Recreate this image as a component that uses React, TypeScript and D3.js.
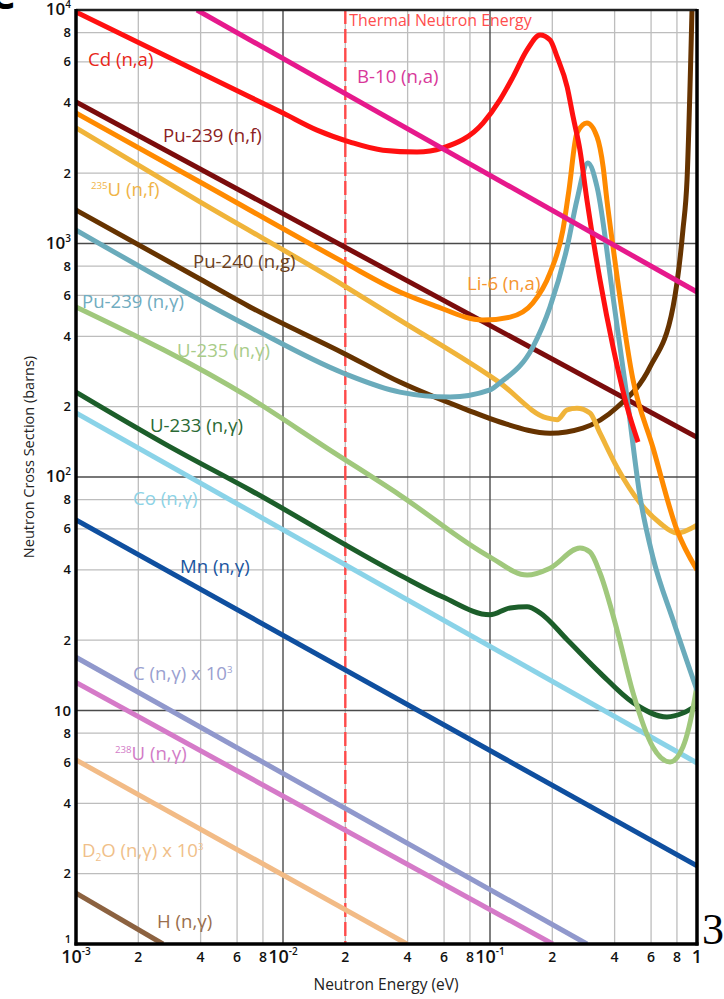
import React from 'react';
import * as d3 from 'd3';

// ---------- data: [energy (eV), cross section (barns)] ----------
const cdNA: number[][] = [
  [0.001, 9800], [0.00693, 4240], [0.01, 3620], [0.0146, 3060], [0.0211, 2720],
  [0.0304, 2510], [0.0444, 2465], [0.0593, 2570], [0.0925, 3280], [0.1117, 4120],
  [0.129, 5160], [0.151, 6750], [0.1745, 7820], [0.195, 7440], [0.211, 6295],
  [0.236, 4677], [0.252, 3486], [0.272, 2510], [0.294, 1535], [0.34, 698],
  [0.393, 360], [0.459, 200], [0.519, 141],
];
const b10NA: number[][] = [[0.00384, 10000], [1, 620]];
const pu239NF: number[][] = [[0.001, 4040], [1, 148]];
const u235NF: number[][] = [
  [0.001, 3125], [0.00397, 1506], [0.0195, 664], [0.0367, 470], [0.1117, 253],
  [0.188, 179], [0.211, 176], [0.236, 194], [0.263, 197], [0.304, 188],
  [0.34, 154], [0.411, 110], [0.531, 77.4], [0.662, 63.5], [0.8, 57.5], [1, 62.2],
];
const li6NA: number[][] = [
  [0.001, 3620], [0.00397, 1833], [0.0195, 834], [0.0367, 620], [0.0531, 545],
  [0.0925, 470], [0.125, 484], [0.161, 556], [0.195, 748], [0.225, 1142],
  [0.2407, 1694], [0.263, 2970], [0.294, 3280], [0.329, 2860], [0.352, 2128],
  [0.367, 1535], [0.393, 967], [0.491, 260], [0.612, 134], [0.8, 59.3], [1, 40],
];
const pu240NG: number[][] = [
  [0.001, 1391], [0.00397, 705], [0.00693, 535], [0.0195, 340], [0.0367, 255],
  [0.0774, 194], [0.1117, 172], [0.195, 154], [0.281, 162], [0.411, 199],
  [0.593, 296], [0.766, 535], [0.855, 1142], [0.895, 1872], [0.946, 10000],
];
const pu239NG: number[][] = [
  [0.001, 1142], [0.00693, 439], [0.0195, 279], [0.0367, 231], [0.0641, 220],
  [0.1, 236], [0.1117, 253], [0.161, 360], [0.195, 535], [0.236, 967],
  [0.263, 1535], [0.297, 2213], [0.329, 1746], [0.393, 590], [0.459, 220],
  [0.531, 82], [0.612, 45.4], [0.766, 24.4], [1, 12.2],
];
const u235NG: number[][] = [
  [0.001, 535], [0.00693, 218], [0.0163, 133], [0.0367, 83.7], [0.1, 45.4],
  [0.151, 38.0], [0.195, 40.7], [0.272, 49.6], [0.304, 47.7], [0.34, 38.8],
  [0.411, 22.1], [0.491, 11.9], [0.612, 6.98], [0.741, 6.02], [0.855, 6.98],
  [0.978, 11.4], [1, 12.85],
];
const u233NG: number[][] = [
  [0.001, 231], [0.00275, 137], [0.00693, 88], [0.0367, 38.0], [0.0593, 30.6],
  [0.1, 25.7], [0.125, 27.5], [0.151, 27.8], [0.1745, 26.2], [0.236, 20.1],
  [0.34, 14.5], [0.491, 10.8], [0.716, 9.38], [0.855, 9.75], [1, 10.56],
];
const coNG: number[][] = [[0.001, 188], [1, 5.96]];
const mnNG: number[][] = [[0.001, 65.5], [1, 2.16]];
const cNG: number[][] = [[0.001, 16.9], [0.294, 1]];
const u238NG: number[][] = [[0.001, 13.2], [0.201, 1]];
const d2oNG: number[][] = [[0.001, 6.14], [0.0397, 1]];
const hNG: number[][] = [[0.001, 1.65], [0.00263, 1]];

const thermalEnergy = 0.02;

const xMinor = [2, 4, 6, 8];
const xDecades = [0.001, 0.01, 0.1];
const yDecades = [1, 10, 100, 1000];
const xDecadeLabels = [
  { v: 0.001, base: '10', sup: '-3' },
  { v: 0.01, base: '10', sup: '-2' },
  { v: 0.1, base: '10', sup: '-1' },
  { v: 1, base: '1', sup: '' },
];
const yDecadeLabels = [
  { v: 1, base: '1', sup: '' },
  { v: 10, base: '10', sup: '' },
  { v: 100, base: '10', sup: '2' },
  { v: 1000, base: '10', sup: '3' },
  { v: 10000, base: '10', sup: '4' },
];

type Seg = { t: string; sup?: boolean; sub?: boolean };
const seriesDefs = [
  { key: 'h', data: hNG, color: '#8c6240' },
  { key: 'd2o', data: d2oNG, color: '#f2bb86' },
  { key: 'u238', data: u238NG, color: '#d57ac8' },
  { key: 'c', data: cNG, color: '#9098cc' },
  { key: 'mn', data: mnNG, color: '#0f4f9f' },
  { key: 'co', data: coNG, color: '#8ad3e8' },
  { key: 'u233', data: u233NG, color: '#1c5e2a' },
  { key: 'u235g', data: u235NG, color: '#a0c87c' },
  { key: 'pu240', data: pu240NG, color: '#663300' },
  { key: 'u235f', data: u235NF, color: '#f0b43a' },
  { key: 'pu239f', data: pu239NF, color: '#7b0c0c' },
  { key: 'li6', data: li6NA, color: '#ff8a00' },
  { key: 'pu239g', data: pu239NG, color: '#6aabbb' },
  { key: 'cd', data: cdNA, color: '#ff1010' },
  { key: 'b10', data: b10NA, color: '#e6198c' },
];

const labelDefs: { segs: Seg[]; at: number[]; color: string }[] = [
  { segs: [{ t: 'Cd (n,a)' }], at: [0.001143, 5754], color: '#e8261a' },
  { segs: [{ t: 'B-10 (n,a)' }], at: [0.02278, 4864], color: '#d8389a' },
  { segs: [{ t: 'Pu-239 (n,f)' }], at: [0.002632, 2721], color: '#8b2222' },
  { segs: [{ t: '235', sup: true }, { t: 'U (n,f)' }], at: [0.001182, 1597], color: '#f0b448' },
  { segs: [{ t: 'Pu-240 (n,g)' }], at: [0.003674, 785], color: '#6b4020' },
  { segs: [{ t: 'Li-6 (n,a)' }], at: [0.07744, 632], color: '#f59530' },
  { segs: [{ t: 'Pu-239 (n,γ)' }], at: [0.001069, 529], color: '#70acc0' },
  { segs: [{ t: 'U-235 (n,γ)' }], at: [0.003076, 326.6], color: '#a8cc88' },
  { segs: [{ t: 'U-233 (n,γ)' }], at: [0.002278, 155.8], color: '#2a6a35' },
  { segs: [{ t: 'Co (n,γ)' }], at: [0.001886, 75.9], color: '#8dd3e6' },
  { segs: [{ t: 'Mn (n,γ)' }], at: [0.00318, 38.8], color: '#1a55a0' },
  { segs: [{ t: 'C (n,γ) x 10' }, { t: '3', sup: true }], at: [0.001886, 13.5], color: '#9aa0d0' },
  { segs: [{ t: '238', sup: true }, { t: 'U (n,γ)' }], at: [0.001543, 6.14], color: '#d27cc7' },
  { segs: [{ t: 'D' }, { t: '2', sub: true }, { t: 'O (n,γ) x 10' }, { t: '3', sup: true }], at: [0.001069, 2.358], color: '#f0bf8a' },
  { segs: [{ t: 'H (n,γ)' }], at: [0.002462, 1.171], color: '#9a6e4c' },
];

function renderSegs(segs: Seg[], size: number) {
  const out: any[] = [];
  let shift = 0;
  segs.forEach((s, i) => {
    let target = 0;
    let fs = size;
    if (s.sup) { target = -size * 0.4; fs = size * 0.52; }
    if (s.sub) { target = size * 0.22; fs = size * 0.55; }
    out.push(
      <tspan key={i} dy={target - shift} fontSize={fs}>{s.t}</tspan>
    );
    shift = target;
  });
  return out;
}

export default function App() {
  const L = 76, R = 697, T = 10, B = 944;
  const x = d3.scaleLog().domain([1e-3, 1]).range([L, R]);
  const y = d3.scaleLog().domain([1, 1e4]).range([B, T]);
  const line = d3.line<number[]>()
    .x(d => x(d[0]))
    .y(d => y(d[1]))
    .curve(d3.curveMonotoneX);

  const xMinorVals: number[] = [];
  xDecades.forEach(d => xMinor.forEach(m => xMinorVals.push(d * m)));
  const yMinorVals: number[] = [];
  yDecades.forEach(d => xMinor.forEach(m => yMinorVals.push(d * m)));

  const font = "'Open Sans', 'Noto Sans', sans-serif";
  const labelSize = 18.6;

  return (
    <div style={{ position: 'absolute', left: 0, top: 0 }}>
      <svg width={724} height={999} style={{ display: 'block', background: '#fff' }} fontFamily={font}>
        <defs>
          <clipPath id="plot">
            <rect x={L} y={T} width={R - L} height={B - T} />
          </clipPath>
        </defs>
        {/* minor grid */}
        {xMinorVals.map((v, i) => (
          <line key={'xm' + i} x1={x(v)} x2={x(v)} y1={T} y2={B} stroke="#bdbdbd" strokeWidth={1.3} />
        ))}
        {yMinorVals.map((v, i) => (
          <line key={'ym' + i} x1={L} x2={R} y1={y(v)} y2={y(v)} stroke="#bdbdbd" strokeWidth={1.3} />
        ))}
        {/* major grid */}
        {[0.01, 0.1].map((v, i) => (
          <line key={'xM' + i} x1={x(v)} x2={x(v)} y1={T} y2={B} stroke="#4a4a4a" strokeWidth={1.4} />
        ))}
        {[10, 100, 1000].map((v, i) => (
          <line key={'yM' + i} x1={L} x2={R} y1={y(v)} y2={y(v)} stroke="#4a4a4a" strokeWidth={1.4} />
        ))}
        {/* thermal line */}
        <line x1={x(thermalEnergy)} x2={x(thermalEnergy)} y1={T} y2={B} stroke="#ff4a4a"
          strokeWidth={2.4} strokeDasharray="14 5" />
        <text x={x(thermalEnergy) + 4} y={26} fill="#ff4d4d" fontSize={15.9}>Thermal Neutron Energy</text>

        {/* curves */}
        <g clipPath="url(#plot)">
          {seriesDefs.map(s => (
            <path key={s.key} d={line(s.data) || ''} fill="none" stroke={s.color} strokeWidth={5}
              strokeLinejoin="round" />
          ))}
        </g>

        {/* labels */}
        {labelDefs.map((l, i) => (
          <text key={'lb' + i} x={x(l.at[0])} y={y(l.at[1])} fill={l.color} fontSize={labelSize}>
            {renderSegs(l.segs, labelSize)}
          </text>
        ))}

        {/* frame */}
        <line x1={L} x2={R} y1={T} y2={T} stroke="#222" strokeWidth={2.5} />
        <line x1={L} x2={L} y1={T - 1} y2={B + 1.5} stroke="#000" strokeWidth={3.5} />
        <line x1={R} x2={R} y1={T - 1} y2={B + 1.5} stroke="#000" strokeWidth={3.5} />
        <line x1={L - 1.5} x2={R + 1.5} y1={B} y2={B} stroke="#000" strokeWidth={3.5} />

        {/* y tick labels */}
        {yMinorVals.map((v, i) => (
          <text key={'yl' + i} x={71} y={y(v) + 4.5} textAnchor="end" fontSize={13} fontWeight={600} fill="#111">
            {String(Math.round(v / Math.pow(10, Math.floor(Math.log10(v) + 1e-9))))}
          </text>
        ))}
        {yDecadeLabels.map((d, i) => (
          <text key={'yd' + i} x={71} y={y(d.v) + (d.v === 1 ? -1.5 : 5)} textAnchor="end"
            fontSize={d.v === 1 ? 11 : d.v === 10 ? 15 : 17} fontWeight={600} fill="#111">
            {d.base}
            {d.sup ? <tspan fontSize={10} dy={-7}>{d.sup}</tspan> : null}
          </text>
        ))}
        {/* x tick labels */}
        {xMinorVals.map((v, i) => (
          <text key={'xl' + i} x={x(v)} y={962} textAnchor="middle" fontSize={14} fontWeight={600} fill="#111">
            {String(Math.round(v / Math.pow(10, Math.floor(Math.log10(v) + 1e-9))))}
          </text>
        ))}
        {xDecadeLabels.map((d, i) => (
          <text key={'xd' + i} x={x(d.v)} y={963} textAnchor="middle" fontSize={18} fontWeight={600} fill="#111">
            {d.base}
            {d.sup ? <tspan fontSize={10} dy={-8}>{d.sup}</tspan> : null}
          </text>
        ))}

        {/* axis titles */}
        <text x={386} y={990} textAnchor="middle" fontSize={15.5} fill="#222">Neutron Energy (eV)</text>
        <text transform="translate(34,457) rotate(-90)" textAnchor="middle" fontSize={14.5} fill="#222">
          Neutron Cross Section (barns)
        </text>

        {/* fragments outside the chart */}
        <text x={702} y={944} fontFamily="'Liberation Serif', serif" fontSize={44} fill="#000">3</text>
        <text x={-10} y={9} fontSize={40} fontWeight={700} fill="#000">C</text>
      </svg>
    </div>
  );
}
